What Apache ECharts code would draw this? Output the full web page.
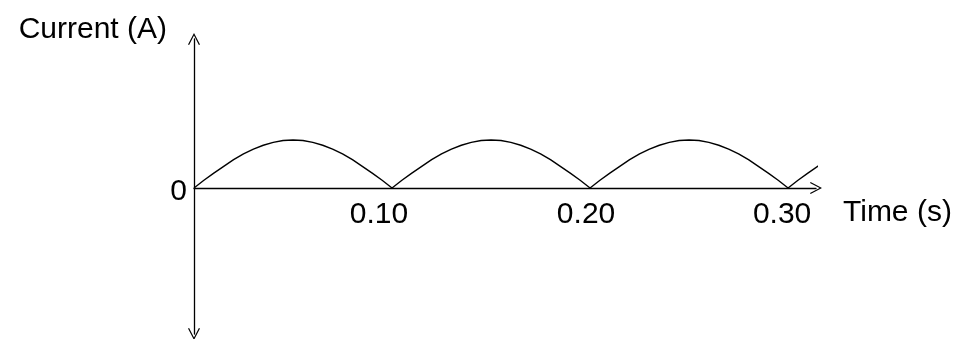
<html style="height: 100%">
<head>
	<meta charset="utf-8">
	<script type="text/javascript" src="https://cdn.jsdelivr.net/npm/echarts@6/dist/echarts.min.js"></script>
</head>

<body style="height: 100%; margin: 0; background: #fff">
	<div id="container" style="height:339px;width:961px"></div>
</body>

<script type="text/javascript">
	// values (current in units of the peak)
	let timeValues = [
		0, 0.005, 0.01, 0.015, 0.02, 0.025, 0.03, 0.035, 0.04, 0.045,
		0.05, 0.055, 0.06, 0.065, 0.07, 0.075, 0.08, 0.085, 0.09, 0.095,
		0.10, 0.105, 0.11, 0.115, 0.12, 0.125, 0.13, 0.135, 0.14, 0.145,
		0.15, 0.155, 0.16, 0.165, 0.17, 0.175, 0.18, 0.185, 0.19, 0.195,
		0.20, 0.205, 0.21, 0.215, 0.22, 0.225, 0.23, 0.235, 0.24, 0.245,
		0.25, 0.255, 0.26, 0.265, 0.27, 0.275, 0.28, 0.285, 0.29, 0.295,
		0.30, 0.305, 0.31, 0.316
	]
	let currentValues = [
		0, 0.16, 0.31, 0.45, 0.59, 0.71, 0.81, 0.89, 0.95, 0.99,
		1.00, 0.99, 0.95, 0.89, 0.81, 0.71, 0.59, 0.45, 0.31, 0.16,
		0, 0.16, 0.31, 0.45, 0.59, 0.71, 0.81, 0.89, 0.95, 0.99,
		1.00, 0.99, 0.95, 0.89, 0.81, 0.71, 0.59, 0.45, 0.31, 0.16,
		0, 0.16, 0.31, 0.45, 0.59, 0.71, 0.81, 0.89, 0.95, 0.99,
		1.00, 0.99, 0.95, 0.89, 0.81, 0.71, 0.59, 0.45, 0.31, 0.16,
		0, 0.16, 0.31, 0.48
	]
	let xTicks = [0.1, 0.2, 0.3]
	let yTicks = [0]
	let xName = 'Time (s)'
	let yName = 'Current (A)'

	var font = 'Liberation Sans'
	// open "V" arrow head
	var vArrow = 'path://M6,0 L12,11.4 L10.9,12 L6,2.4 L1.1,12 L0,11.4 Z'

	var gridTop = 39, gridHeight = 295
	var yMin = -3.042, yMax = 3.104
	// v6 keeps labels at the grid edge with onZero, so move the whole axis up to y = 0 instead
	var zeroShift = gridHeight * (0 - yMin) / (yMax - yMin)

	var dom = document.getElementById("container");
	var myChart = echarts.init(dom);

	let seriesData = timeValues.map((t, i) => [t, currentValues[i]])

	var option = {
		animation: false,
		grid: {
			left: 194,
			top: gridTop,
			width: 622,
			height: gridHeight,
			outerBoundsMode: 'none'
		},
		xAxis: {
			type: 'value',
			min: 0,
			max: 0.3141,
			interval: 0.1,
			offset: -zeroShift,
			name: xName,
			nameLocation: 'end',
			nameGap: 27,
			nameTextStyle: {
				fontFamily: font,
				fontSize: 30,
				color: '#000',
				align: 'left',
				verticalAlign: 'top',
				lineHeight: 50
			},
			axisLine: {
				onZero: false,
				symbol: ['none', vArrow],
				symbolSize: [12, 12],
				lineStyle: { color: '#000', width: 1.3 }
			},
			axisTick: { show: false },
			splitLine: { show: false },
			axisLabel: {
				customValues: xTicks,
				margin: 12,
				fontFamily: font,
				fontSize: 30,
				color: '#000',
				formatter: function (v) {
					let s = v.toFixed(2)
					return '{l' + s.replace('.', '') + '|' + s + '}'
				},
				rich: {
					l010: { fontFamily: font, fontSize: 30, color: '#000', padding: [0, 26, 0, 0] },
					l020: { fontFamily: font, fontSize: 30, color: '#000', padding: [0, 8, 0, 0] },
					l030: { fontFamily: font, fontSize: 30, color: '#000', padding: [0, 12, 0, 0] }
				}
			}
		},
		yAxis: {
			type: 'value',
			min: yMin,
			max: yMax,
			name: yName,
			nameLocation: 'end',
			nameGap: 9,
			nameTextStyle: {
				fontFamily: font,
				fontSize: 30,
				color: '#000',
				align: 'right',
				verticalAlign: 'middle',
				padding: [0, 27, 0, 0]
			},
			axisLine: {
				onZero: false,
				symbol: [vArrow, vArrow],
				symbolSize: [12, 12],
				lineStyle: { color: '#000', width: 1.3 }
			},
			axisTick: { show: false },
			splitLine: { show: false },
			axisLabel: {
				customValues: yTicks,
				margin: 7,
				fontFamily: font,
				fontSize: 30,
				color: '#000',
				formatter: function (v) { return '{z|' + v + '}' },
				rich: {
					z: { fontFamily: font, fontSize: 30, color: '#000', padding: [7, 0, 0, 0] }
				}
			}
		},
		series: [
			{
				type: 'line',
				data: seriesData,
				showSymbol: false,
				clip: false,
				lineStyle: { color: '#000', width: 1.4 }
			}
		]
	};

	myChart.setOption(option);
</script>

</html>
